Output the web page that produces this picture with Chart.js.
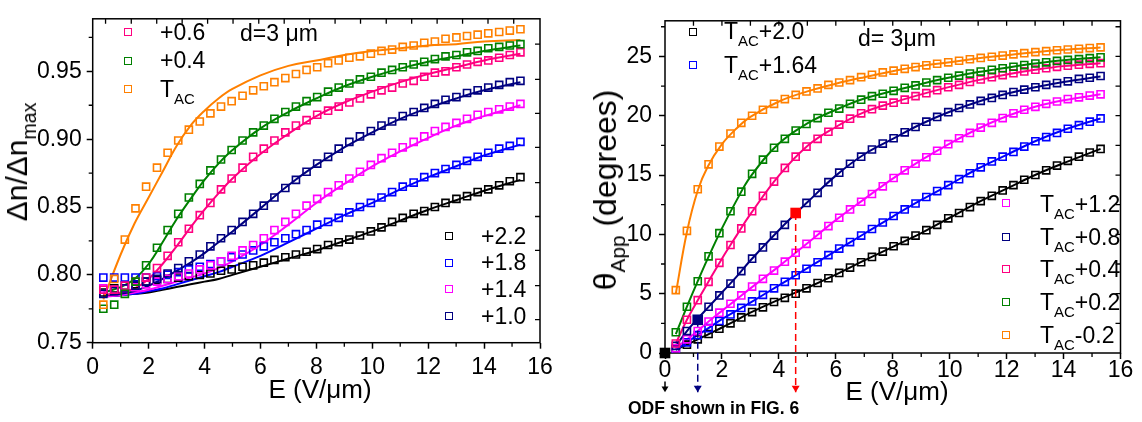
<!DOCTYPE html>
<html>
<head>
<meta charset="utf-8">
<script src="https://cdn.jsdelivr.net/npm/chart.js@4.4.1/dist/chart.umd.min.js"></script>
<style>
  body { margin: 0; background: #fff; }
  #fig { position: relative; width: 1142px; height: 422px; overflow: hidden; background: #fff;
         font-family: 'Liberation Sans', Arial, sans-serif; color: #000; }
  #fig canvas { position: absolute; top: 0; }
  .t { position: absolute; white-space: nowrap; line-height: 1; font-size: 23px; }
  .t sub { font-size: .65em; vertical-align: -.45em; line-height: 0; }
  .c { transform: translateX(-50%); }
  .rot { transform: translate(-50%, -50%) rotate(-90deg); }
  .sq { position: absolute; width: 6px; height: 6px; border: 1.6px solid; transform: translate(-50%, -50%); }
</style>
</head>
<body>
<div id="fig">
  <canvas id="dn" width="575" height="422" style="left:0"></canvas>
  <canvas id="th" width="567" height="422" style="left:575px"></canvas>

  <!-- left panel text -->
  <div class="t rot" style="left:17px;top:162px;font-size:30px">&Delta;n/&Delta;n<sub>max</sub></div>
  <div class="t c" style="left:320px;top:376px;font-size:26px">E (V/&mu;m)</div>
  <span class="sq" style="left:128px;top:32px;border-color:#ff0080"></span>
  <span class="sq" style="left:128px;top:61px;border-color:#008000"></span>
  <span class="sq" style="left:128px;top:89px;border-color:#ff8000"></span>
  <div class="t" style="left:160px;top:21px">+0.6</div>
  <div class="t" style="left:160px;top:49px">+0.4</div>
  <div class="t" style="left:160px;top:78px">T<sub>AC</sub></div>
  <div class="t" style="left:240px;top:22px">d=3 &mu;m</div>
  <span class="sq" style="left:449px;top:236px;border-color:#000000"></span>
  <span class="sq" style="left:449px;top:263px;border-color:#0000ff"></span>
  <span class="sq" style="left:449px;top:289px;border-color:#ff00ff"></span>
  <span class="sq" style="left:449px;top:316px;border-color:#000080"></span>
  <div class="t" style="left:481px;top:225px">+2.2</div>
  <div class="t" style="left:481px;top:251px">+1.8</div>
  <div class="t" style="left:481px;top:278px">+1.4</div>
  <div class="t" style="left:481px;top:305px">+1.0</div>

  <!-- right panel text -->
  <div class="t rot" style="left:605px;top:190px;font-size:32px">&theta;<sub>App</sub> (degrees)</div>
  <div class="t c" style="left:897px;top:378px;font-size:26px">E (V/&mu;m)</div>
  <div class="t" style="left:628px;top:400px;font-size:17.5px;font-weight:bold">ODF shown in FIG. 6</div>
  <span class="sq" style="left:693px;top:32px;border-color:#000000"></span>
  <span class="sq" style="left:693px;top:65px;border-color:#0000ff"></span>
  <div class="t" style="left:724px;top:20px">T<sub>AC</sub>+2.0</div>
  <div class="t" style="left:724px;top:54px">T<sub>AC</sub>+1.64</div>
  <div class="t" style="left:858px;top:27px">d= 3&mu;m</div>
  <span class="sq" style="left:1006px;top:203px;border-color:#ff00ff"></span>
  <span class="sq" style="left:1006px;top:237px;border-color:#000080"></span>
  <span class="sq" style="left:1006px;top:269px;border-color:#ff0080"></span>
  <span class="sq" style="left:1006px;top:302px;border-color:#008000"></span>
  <span class="sq" style="left:1006px;top:335px;border-color:#ff8000"></span>
  <div class="t" style="left:1040px;top:193px">T<sub>AC</sub>+1.2</div>
  <div class="t" style="left:1040px;top:226px">T<sub>AC</sub>+0.8</div>
  <div class="t" style="left:1040px;top:258px">T<sub>AC</sub>+0.4</div>
  <div class="t" style="left:1040px;top:291px">T<sub>AC</sub>+0.2</div>
  <div class="t" style="left:1040px;top:324px">T<sub>AC</sub>-0.2</div>
</div>

<script>
const FONT = "'Liberation Sans', Arial, sans-serif";

// applied field E (V/um) of every measured point
const E = [0.38,0.77,1.15,1.53,1.91,2.30,2.68,3.06,3.44,3.83,4.21,4.59,4.97,5.36,5.74,6.12,6.50,6.89,7.27,7.65,
           8.03,8.42,8.80,9.18,9.56,9.95,10.33,10.71,11.09,11.48,11.86,12.24,12.62,13.01,13.39,13.77,14.15,14.54,14.92,15.30];

// normalised birefringence dn/dn_max, one list per temperature
const dnTac = [0.778,0.797,0.826,0.849,0.865,0.879,0.890,0.899,0.907,0.913,0.919,0.924,0.928,0.932,0.936,0.939,0.942,0.945,0.948,0.951,
               0.953,0.956,0.958,0.960,0.961,0.963,0.965,0.966,0.968,0.969,0.971,0.972,0.974,0.975,0.976,0.977,0.978,0.979,0.980,0.981];
const dnP04 = [0.775,0.778,0.786,0.795,0.807,0.820,0.833,0.845,0.857,0.867,0.877,0.885,0.892,0.899,0.905,0.910,0.915,0.920,0.924,0.928,
               0.931,0.935,0.938,0.941,0.944,0.946,0.949,0.951,0.953,0.955,0.957,0.959,0.961,0.962,0.964,0.965,0.967,0.968,0.969,0.970];
const dnP06 = [0.789,0.789,0.792,0.795,0.798,0.805,0.814,0.824,0.834,0.844,0.853,0.863,0.871,0.879,0.887,0.893,0.899,0.905,0.910,0.914,
               0.918,0.921,0.924,0.927,0.930,0.933,0.936,0.938,0.941,0.943,0.946,0.949,0.950,0.953,0.955,0.957,0.958,0.960,0.962,0.964];
const dnP10 = [0.786,0.788,0.790,0.792,0.795,0.797,0.801,0.805,0.810,0.815,0.821,0.827,0.833,0.839,0.845,0.851,0.857,0.864,0.870,0.876,
               0.882,0.887,0.893,0.898,0.902,0.906,0.910,0.913,0.917,0.920,0.923,0.926,0.929,0.931,0.934,0.936,0.938,0.940,0.942,0.943];
const dnP14 = [0.790,0.789,0.790,0.791,0.793,0.795,0.797,0.799,0.801,0.804,0.807,0.810,0.814,0.818,0.822,0.827,0.833,0.839,0.845,0.851,
               0.856,0.861,0.866,0.871,0.876,0.881,0.886,0.890,0.894,0.898,0.902,0.906,0.909,0.912,0.915,0.918,0.920,0.922,0.924,0.926];
const dnP18 = [0.798,0.798,0.798,0.798,0.798,0.799,0.800,0.802,0.804,0.806,0.808,0.810,0.813,0.815,0.818,0.821,0.824,0.827,0.830,0.833,
               0.837,0.839,0.842,0.846,0.850,0.853,0.857,0.861,0.865,0.868,0.872,0.875,0.878,0.881,0.884,0.887,0.890,0.893,0.895,0.898];
const dnP22 = [0.787,0.790,0.792,0.793,0.795,0.796,0.797,0.798,0.799,0.800,0.801,0.803,0.804,0.806,0.807,0.809,0.811,0.813,0.815,0.817,
               0.819,0.822,0.824,0.826,0.829,0.832,0.835,0.839,0.842,0.845,0.847,0.850,0.853,0.856,0.858,0.861,0.863,0.866,0.869,0.872];

// model curves for dn/dn_max
const fitEdn = [0.38,1,1.5,2,2.5,3,3.5,4,4.5,5,6,7,8,9,10,11,12,13,14,15.3];
const fitDnTac = [0.782,0.815,0.838,0.857,0.876,0.895,0.910,0.921,0.930,0.937,0.947,0.954,0.958,0.962,0.965,0.967,0.969,0.970,0.972,0.973];
const fitDnP04 = [0.787,0.791,0.797,0.808,0.824,0.841,0.856,0.870,0.882,0.892,0.908,0.920,0.930,0.939,0.946,0.952,0.957,0.961,0.965,0.969];
const fitDnP06 = [0.785,0.787,0.790,0.797,0.808,0.821,0.835,0.848,0.860,0.871,0.889,0.904,0.917,0.927,0.935,0.942,0.948,0.953,0.958,0.963];
const fitDnP10 = [0.785,0.786,0.788,0.792,0.797,0.803,0.809,0.816,0.824,0.832,0.849,0.866,0.881,0.894,0.905,0.915,0.923,0.930,0.936,0.942];
const fitDnP14 = [0.784,0.785,0.787,0.789,0.792,0.795,0.798,0.801,0.805,0.810,0.822,0.837,0.853,0.867,0.880,0.891,0.901,0.910,0.917,0.925];
const fitDnP18 = [0.784,0.785,0.786,0.788,0.790,0.793,0.796,0.799,0.802,0.806,0.814,0.824,0.834,0.844,0.853,0.863,0.872,0.880,0.888,0.896];
const fitDnP22 = [0.784,0.785,0.786,0.787,0.789,0.791,0.793,0.795,0.797,0.800,0.806,0.812,0.818,0.825,0.832,0.840,0.848,0.855,0.862,0.870];

// apparent tilt angle theta_App (degrees)
const thM02 = [5.3,10.3,13.8,15.9,17.4,18.5,19.4,20.0,20.5,21.0,21.4,21.75,22.05,22.3,22.6,22.8,23.0,23.25,23.45,23.65,
               23.8,23.95,24.1,24.25,24.38,24.5,24.63,24.76,24.87,24.97,25.07,25.17,25.27,25.36,25.44,25.52,25.58,25.64,25.7,25.76];
const thP02 = [1.75,3.9,6.05,8.15,10.1,11.95,13.6,15.1,16.3,17.3,18.05,18.75,19.3,19.8,20.25,20.6,21.0,21.35,21.65,21.85,
               22.1,22.35,22.55,22.8,23.0,23.2,23.38,23.55,23.72,23.87,24.0,24.13,24.27,24.4,24.5,24.62,24.7,24.77,24.85,24.92];
const thP04 = [0.8,2.8,4.45,6.0,7.6,9.1,10.5,11.95,13.25,14.45,15.6,16.55,17.4,18.05,18.65,19.25,19.75,20.2,20.55,20.85,
               21.1,21.35,21.65,21.9,22.15,22.4,22.6,22.85,23.05,23.25,23.42,23.58,23.73,23.88,24.0,24.12,24.22,24.3,24.37,24.43];
const thP08 = [0.6,1.85,2.8,3.9,4.85,5.85,6.9,7.95,8.9,9.9,10.8,11.8,12.65,13.5,14.4,15.2,15.95,16.55,17.15,17.65,
               18.1,18.6,19.05,19.5,19.9,20.3,20.65,20.95,21.25,21.5,21.75,22.0,22.2,22.4,22.6,22.75,22.9,23.1,23.2,23.35];
const thP12 = [0.4,1.15,1.85,2.65,3.4,4.15,4.85,5.6,6.25,6.95,7.7,8.45,9.2,9.95,10.7,11.4,12.1,12.75,13.4,14.05,
               14.75,15.4,15.95,16.5,17.05,17.6,18.1,18.55,19.0,19.4,19.8,20.2,20.5,20.75,21.0,21.2,21.4,21.55,21.7,21.8];
const thP164 = [0.25,0.9,1.5,2.1,2.7,3.25,3.8,4.35,4.9,5.45,6.0,6.55,7.1,7.65,8.25,8.8,9.35,9.9,10.45,11.0,
                11.55,12.1,12.6,13.15,13.65,14.15,14.65,15.15,15.65,16.15,16.55,16.95,17.4,17.85,18.2,18.55,18.9,19.2,19.5,19.77];
const thP20 = [0.3,0.7,1.15,1.6,2.05,2.5,3.0,3.45,3.85,4.3,4.65,5.0,5.45,5.9,6.3,6.75,7.2,7.65,8.1,8.55,
               9.0,9.45,9.9,10.35,10.8,11.35,11.8,12.3,12.8,13.25,13.7,14.15,14.6,15.0,15.4,15.8,16.2,16.55,16.9,17.2];

// model curves for theta_App
const fitEth = [0.38,0.77,1.15,1.5,2,2.5,3,4,5,6,7,8,9,10,11,12,13,14,15.3];
const fitThM02 = [5.0,10.2,13.7,15.7,17.6,18.9,19.9,21.2,22.05,22.7,23.25,23.75,24.2,24.5,24.85,25.1,25.35,25.55,25.75];
const fitThP02 = [1.6,3.9,6.05,7.95,10.5,12.8,14.85,17.65,19.35,20.5,21.45,22.08,22.68,23.22,23.68,24.05,24.4,24.68,24.92];
const fitThP04 = [0.8,2.8,4.45,5.9,7.95,9.85,11.7,14.95,17.45,19.05,20.3,21.1,21.8,22.43,23.0,23.48,23.87,24.18,24.43];
const fitThP08 = [0.6,1.85,2.9,3.8,5.1,6.4,7.8,10.35,12.7,14.95,16.75,18.05,19.3,20.33,21.18,21.85,22.4,22.85,23.3];
const fitThP12 = [0.4,1.15,1.85,2.6,3.55,4.5,5.45,7.3,9.25,11.2,12.97,14.7,16.25,17.65,18.9,19.95,20.75,21.3,21.8];
const fitThP164 = [0.25,0.9,1.5,2.05,2.85,3.55,4.25,5.7,7.15,8.6,10.05,11.5,12.9,14.2,15.55,16.7,17.85,18.8,19.77];
const fitThP20 = [0.3,0.7,1.15,1.55,2.15,2.75,3.4,4.5,5.5,6.6,7.8,8.95,10.1,11.4,12.7,13.85,15.0,16.0,17.2];

// points whose orientation distribution is shown elsewhere
const odfE = [0, 1.15, 4.59];
const odfTheta = [0, 2.8, 11.8];
const odfColor = ['#000000', '#000080', '#ff0000'];

const C = { tac: '#ff8000', p02: '#008000', p04: '#008000', p06: '#ff0080', p08: '#000080', p10: '#000080',
            p12: '#ff00ff', p14: '#ff00ff', p164: '#0000ff', p18: '#0000ff', p20: '#000000', p22: '#000000', pk: '#ff0080' };

function xy(xs, ys) { return xs.map(function (x, i) { return { x: x, y: ys[i] }; }); }

function squares(ys, color) {
  return { data: xy(E, ys), showLine: false, pointStyle: 'rect', pointRadius: 5, pointBorderWidth: 1.6,
           pointBorderColor: color, pointBackgroundColor: 'rgba(0,0,0,0)' };
}
function curve(xs, ys, color) {
  return { data: xy(xs, ys), showLine: true, borderColor: color, borderWidth: 2, pointRadius: 0,
           tension: 0.4, fill: false };
}

// box around the plot, short minor ticks outside, mirror ticks pointing in
const frameTicks = {
  id: 'frameTicks',
  beforeDatasetsDraw(chart, args, o) {
    const ctx = chart.ctx, a = chart.chartArea, x = chart.scales.x, y = chart.scales.y;
    ctx.save();
    ctx.strokeStyle = '#000';
    ctx.lineWidth = 1.5;
    ctx.strokeRect(a.left, a.top, a.right - a.left, a.bottom - a.top);
    ctx.lineWidth = 1.3;
    ctx.beginPath();
    o.xMinor.forEach(function (v) { const p = x.getPixelForValue(v); ctx.moveTo(p, a.bottom); ctx.lineTo(p, a.bottom + 4); });
    o.yMinor.forEach(function (v) { const p = y.getPixelForValue(v); ctx.moveTo(a.left, p); ctx.lineTo(a.left - 4, p); });
    o.top.forEach(function (v) { const p = x.getPixelForValue(v); ctx.moveTo(p, a.top); ctx.lineTo(p, a.top + 5); });
    o.right.forEach(function (v) { const p = y.getPixelForValue(v); ctx.moveTo(a.right, p); ctx.lineTo(a.right - 5, p); });
    ctx.stroke();
    ctx.restore();
  }
};

// heads for the dashed drop lines (they sit below the plot area, where points are not drawn)
const arrowHeads = {
  id: 'arrowHeads',
  afterDatasetsDraw(chart) {
    const ctx = chart.ctx;
    chart.data.datasets.forEach(function (ds, i) {
      if (!ds.arrow) return;
      const pts = chart.getDatasetMeta(i).data;
      const tip = pts[pts.length - 1];
      const w = ds.headSize, h = ds.headSize * 1.6;
      ctx.save();
      ctx.fillStyle = ds.borderColor;
      ctx.beginPath();
      ctx.moveTo(tip.x - w, tip.y - h);
      ctx.lineTo(tip.x + w, tip.y - h);
      ctx.lineTo(tip.x, tip.y);
      ctx.closePath();
      ctx.fill();
      ctx.restore();
    });
  }
};

function scales(o) {
  const font = { family: FONT, size: 23 };
  const grid = { drawOnChartArea: false, tickLength: 6, tickWidth: 1.5, tickColor: '#000' };
  return {
    x: { type: 'linear', min: 0, max: 16, afterFit: function (s) { s.height = o.xh; },
         ticks: { stepSize: 2, font: font, color: '#000', padding: o.xpad, maxRotation: 0, includeBounds: false },
         grid: grid, border: { display: false } },
    y: { type: 'linear', min: o.ymin, max: o.ymax, afterFit: function (s) { s.width = o.yw; },
         ticks: { stepSize: o.ystep, font: font, color: '#000', padding: o.ypad, includeBounds: false, callback: o.fmt },
         grid: grid, border: { display: false } }
  };
}

new Chart(document.getElementById('dn'), {
  type: 'scatter',
  data: { datasets: [
    squares(dnTac, C.tac), squares(dnP04, C.p04), squares(dnP06, C.p06),
    squares(dnP10, C.p10), squares(dnP14, C.p14), squares(dnP18, C.p18), squares(dnP22, C.p22),
    curve(fitEdn, fitDnTac, C.tac), curve(fitEdn, fitDnP04, C.p04), curve(fitEdn, fitDnP06, C.p06),
    curve(fitEdn, fitDnP10, C.p10), curve(fitEdn, fitDnP14, C.p14), curve(fitEdn, fitDnP18, C.p18),
    curve(fitEdn, fitDnP22, C.p22)
  ] },
  options: {
    responsive: false, animation: false, devicePixelRatio: 1,
    layout: { padding: { left: 0, top: 9.3, right: 35, bottom: 0 } },
    scales: scales({ xh: 79.3, yw: 92.7, xpad: 5, ypad: 5, ymin: 0.75, ymax: 0.9887, ystep: 0.05,
                     fmt: function (v) { return v.toFixed(2); } }),
    plugins: {
      legend: { display: false }, tooltip: { enabled: false },
      frameTicks: {
        xMinor: [1, 3, 5, 7, 9, 11, 13, 15],
        yMinor: [0.775, 0.825, 0.875, 0.925, 0.975],
        top: [0.46, 1.38, 2.29, 3.20, 4.11, 5.02, 5.94, 6.85, 7.76, 8.67, 9.58, 10.50, 11.41, 12.32, 13.23, 14.14, 15.06],
        right: [0.767, 0.792, 0.818, 0.843, 0.868, 0.894, 0.919, 0.944, 0.970]
      }
    }
  },
  plugins: [frameTicks]
});

// dashed arrows dropping from the marked points to below the axis
const arrowEnd = -3.3;
const arrows = odfE.map(function (e, i) {
  const start = odfTheta[i] > 0 ? odfTheta[i] : -2.4;
  return { arrow: true, headSize: i ? 4 : 3.5, data: [{ x: e, y: start }, { x: e, y: arrowEnd }],
           showLine: true, clip: false, borderColor: odfColor[i], borderWidth: 1.5, borderDash: [7, 4], pointRadius: 0 };
});

new Chart(document.getElementById('th'), {
  type: 'scatter',
  data: { datasets: [
    { data: xy(odfE, odfTheta), clip: false, pointStyle: 'rect', pointRadius: 7.5, pointBorderWidth: 0,
      pointBackgroundColor: odfColor, pointBorderColor: odfColor }
  ].concat(arrows, [
    squares(thM02, C.tac), squares(thP02, C.p02), squares(thP04, C.pk), squares(thP08, C.p08),
    squares(thP12, C.p12), squares(thP164, C.p164), squares(thP20, C.p20),
    curve(fitEth, fitThM02, C.tac), curve(fitEth, fitThP02, C.p02), curve(fitEth, fitThP04, C.pk),
    curve(fitEth, fitThP08, C.p08), curve(fitEth, fitThP12, C.p12), curve(fitEth, fitThP164, C.p164),
    curve(fitEth, fitThP20, C.p20)
  ]) },
  options: {
    responsive: false, animation: false, devicePixelRatio: 1,
    layout: { padding: { left: 0, top: 14.7, right: 21.5, bottom: 0 } },
    scales: scales({ xh: 69, yw: 90, xpad: -2, ypad: 7, ymin: 0, ymax: 28, ystep: 5,
                     fmt: function (v) { return String(v); } }),
    plugins: {
      legend: { display: false }, tooltip: { enabled: false },
      frameTicks: {
        xMinor: [1, 3, 5, 7, 9, 11, 13, 15],
        yMinor: [2.5, 7.5, 12.5, 17.5, 22.5, 27.5],
        top: [1, 2, 3, 4, 5, 6, 7, 8, 9, 10, 11, 12, 13, 14, 15],
        right: [2.5, 5, 7.5, 10, 12.5, 15, 17.5, 20, 22.5, 25, 27.5]
      }
    }
  },
  plugins: [frameTicks, arrowHeads]
});
</script>
</body>
</html>
